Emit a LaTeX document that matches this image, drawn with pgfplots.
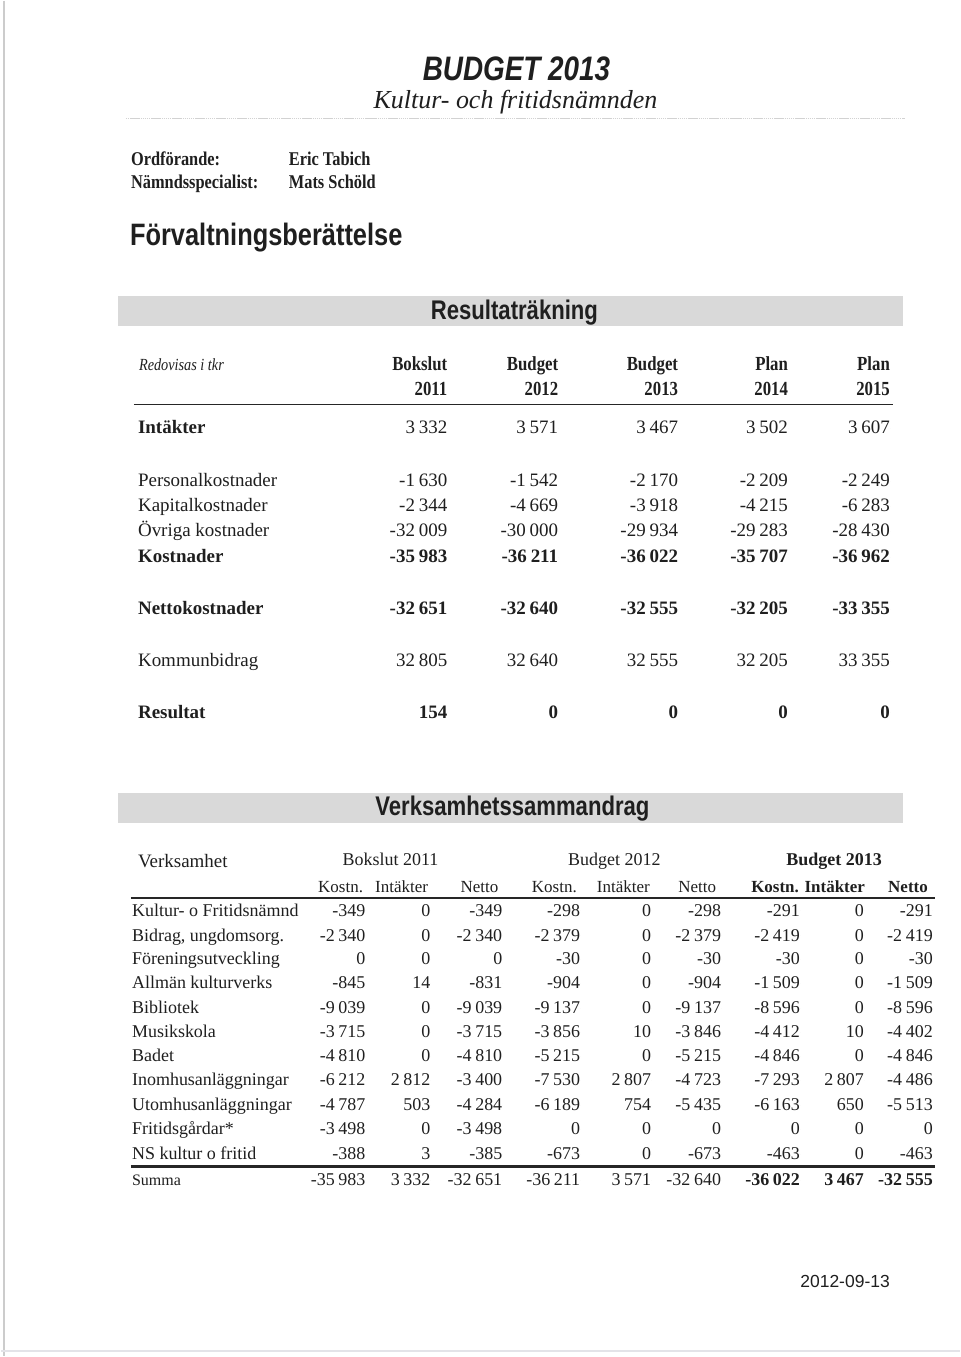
\documentclass[border=0pt]{standalone}
\usepackage{fontspec}
\setmainfont{Liberation Serif}
\newfontfamily\headsans[FakeStretch=0.82]{Liberation Sans}
\newfontfamily\datesans{Liberation Sans}
\newfontfamily\condserif[FakeStretch=0.84]{Liberation Serif}
\usepackage{pgfplots}
\usepackage{pgfplotstable}
\pgfplotsset{compat=1.18}

\newcommand\fs[1]{\fontsize{#1}{#1}\selectfont}

% Resultaträkning: y = row position on the page
\pgfplotstableread{
y   b11    b12    b13    p14    p15
428 3332   3571   3467   3502   3607
481 -1630  -1542  -2170  -2209  -2249
506 -2344  -4669  -3918  -4215  -6283
531 -32009 -30000 -29934 -29283 -28430
661 32805  32640  32555  32205  33355
}\resreg
\pgfplotstableread{
y   b11    b12    b13    p14    p15
557 -35983 -36211 -36022 -35707 -36962
609 -32651 -32640 -32555 -32205 -33355
713 154    0      0      0      0
}\resbold

% Verksamhetssammandrag
\pgfplotstableread{
y    k11   i11  n11   k12   i12  n12   k13   i13  n13
911  -349  0    -349  -298  0    -298  -291  0    -291
936  -2340 0    -2340 -2379 0    -2379 -2419 0    -2419
960  0     0    0     -30   0    -30   -30   0    -30
984  -845  14   -831  -904  0    -904  -1509 0    -1509
1009 -9039 0    -9039 -9137 0    -9137 -8596 0    -8596
1033 -3715 0    -3715 -3856 10   -3846 -4412 10   -4402
1057 -4810 0    -4810 -5215 0    -5215 -4846 0    -4846
1081 -6212 2812 -3400 -7530 2807 -4723 -7293 2807 -4486
1106 -4787 503  -4284 -6189 754  -5435 -6163 650  -5513
1130 -3498 0    -3498 0     0    0     0     0    0
1155 -388  3    -385  -673  0    -673  -463  0    -463
}\verk
\pgfplotstableread{
y    k11    i11  n11    k12    i12  n12    k13    i13  n13
1181 -35983 3332 -32651 -36211 3571 -32640 -36022 3467 -32555
}\summa

\pgfplotsset{
  cell/.style={only marks, mark=*, mark size=0pt,
    mark options={draw=none, fill=none},
    point meta=explicit, nodes near coords,
    nodes near coords style={anchor=mid east, inner sep=0pt,
      yshift=-3pt, text=black!88}},
}
\tikzset{
  txt/.style={anchor=mid west, inner sep=0pt, yshift=-3pt, text=black!88},
  ctr/.style={anchor=mid, inner sep=0pt, yshift=-3pt, text=black!88},
  rgt/.style={anchor=mid east, inner sep=0pt, yshift=-3pt, text=black!88},
}
% table, column, x position, extra options
\newcommand\col[4]{\addplot[cell, #4] table[x expr=#3, y=y, meta=#2] {#1};}

\begin{document}
\begin{tikzpicture}
\begin{axis}[
  width=960pt, height=1357pt, scale only axis,
  xmin=0, xmax=960, ymin=0, ymax=1357, y dir=reverse,
  hide axis, clip=false,
  /pgf/number format/.cd, fixed, precision=0,
  1000 sep={\hspace{0.2em}}, assume math mode=true,
]
\fill[white] (axis cs:0,0) rectangle (axis cs:960,1357);
\draw[gray!40, line width=1.5pt] (axis cs:3,0) -- (axis cs:3,1357);
\draw[blue!8!gray!20, line width=2pt] (axis cs:0,1352) -- (axis cs:960,1352);

% header
\node[font=\headsans\bfseries\itshape\fs{34}, text=black!88] at (axis cs:516,68) {BUDGET 2013};
\node[font=\itshape\fs{26}, text=black!88] at (axis cs:515,101) {Kultur- och fritidsnämnden};
\draw[gray!35, line width=1.5pt, dash pattern=on 1.5pt off 0.6pt] (axis cs:125,118) -- (axis cs:905,118);

\begin{scope}[every node/.style={txt, font=\condserif\bfseries\fs{19.5}}]
\node at (axis cs:130,160) {Ordförande:};
\node at (axis cs:288,160) {Eric Tabich};
\node at (axis cs:130,183) {Nämndsspecialist:};
\node at (axis cs:288,183) {Mats Schöld};
\end{scope}

\node[txt, font=\headsans\bfseries\fs{31}] at (axis cs:129,240) {Förvaltningsberättelse};

% Resultaträkning
\fill[black!15] (axis cs:117,296) rectangle (axis cs:903,326);
\node[ctr, font=\headsans\bfseries\fs{27}] at (axis cs:514,314) {Resultaträkning};

\node[txt, font=\condserif\itshape\fs{17}] at (axis cs:138,365) {Redovisas i tkr};
\begin{scope}[every node/.style={rgt, font=\condserif\bfseries\fs{20}}]
\node at (axis cs:447,365) {Bokslut}; \node at (axis cs:447,390) {2011};
\node at (axis cs:558,365) {Budget};  \node at (axis cs:558,390) {2012};
\node at (axis cs:678,365) {Budget};  \node at (axis cs:678,390) {2013};
\node at (axis cs:788,365) {Plan};    \node at (axis cs:788,390) {2014};
\node at (axis cs:890,365) {Plan};    \node at (axis cs:890,390) {2015};
\end{scope}
\draw[black!85, line width=1.6pt] (axis cs:133,404) -- (axis cs:893,404);

\begin{scope}[every node/.style={txt, font=\fs{19}}]
\node[font=\bfseries\fs{19}] at (axis cs:137,428) {Intäkter};
\node at (axis cs:137,481) {Personalkostnader};
\node at (axis cs:137,506) {Kapitalkostnader};
\node at (axis cs:137,531) {Övriga kostnader};
\node[font=\bfseries\fs{19}] at (axis cs:137,557) {Kostnader};
\node[font=\bfseries\fs{19}] at (axis cs:137,609) {Nettokostnader};
\node at (axis cs:137,661) {Kommunbidrag};
\node[font=\bfseries\fs{19}] at (axis cs:137,713) {Resultat};
\end{scope}

\col{\resreg}{b11}{447}{nodes near coords style={font=\fs{19}}}
\col{\resreg}{b12}{558}{nodes near coords style={font=\fs{19}}}
\col{\resreg}{b13}{678}{nodes near coords style={font=\fs{19}}}
\col{\resreg}{p14}{788}{nodes near coords style={font=\fs{19}}}
\col{\resreg}{p15}{890}{nodes near coords style={font=\fs{19}}}
\col{\resbold}{b11}{447}{nodes near coords style={font=\bfseries\fs{19}}}
\col{\resbold}{b12}{558}{nodes near coords style={font=\bfseries\fs{19}}}
\col{\resbold}{b13}{678}{nodes near coords style={font=\bfseries\fs{19}}}
\col{\resbold}{p14}{788}{nodes near coords style={font=\bfseries\fs{19}}}
\col{\resbold}{p15}{890}{nodes near coords style={font=\bfseries\fs{19}}}

% Verksamhetssammandrag
\fill[black!15] (axis cs:117,793) rectangle (axis cs:903,823);
\node[ctr, font=\headsans\bfseries\fs{27}] at (axis cs:512,810) {Verksamhetssammandrag};

\begin{scope}[every node/.style={ctr, font=\fs{18}}]
\node[txt, font=\fs{19}] at (axis cs:137,859) {Verksamhet};
\node at (axis cs:390,860) {Bokslut 2011};
\node at (axis cs:614,860) {Budget 2012};
\node[font=\bfseries\fs{18}] at (axis cs:834,860) {Budget 2013};
\node[font=\fs{17}] at (axis cs:340,887) {Kostn.};
\node[font=\fs{17}] at (axis cs:401,887) {Intäkter};
\node[font=\fs{17}] at (axis cs:479,887) {Netto};
\node[font=\fs{17}] at (axis cs:554,887) {Kostn.};
\node[font=\fs{17}] at (axis cs:623,887) {Intäkter};
\node[font=\fs{17}] at (axis cs:697,887) {Netto};
\node[font=\bfseries\fs{17}] at (axis cs:808,887) {Kostn. Intäkter};
\node[font=\bfseries\fs{17}] at (axis cs:908,887) {Netto};
\end{scope}
\draw[black!85, line width=1.6pt] (axis cs:130,898) -- (axis cs:935,898);

\begin{scope}[every node/.style={txt, font=\fs{18}}]
\node at (axis cs:131,911) {Kultur- o Fritidsnämnd};
\node at (axis cs:131,936) {Bidrag, ungdomsorg.};
\node at (axis cs:131,960) {Föreningsutveckling};
\node at (axis cs:131,984) {Allmän kulturverks};
\node at (axis cs:131,1009) {Bibliotek};
\node at (axis cs:131,1033) {Musikskola};
\node at (axis cs:131,1057) {Badet};
\node at (axis cs:131,1081) {Inomhusanläggningar};
\node at (axis cs:131,1106) {Utomhusanläggningar};
\node at (axis cs:131,1130) {Fritidsgårdar*};
\node at (axis cs:131,1155) {NS kultur o fritid};
\node[font=\fs{16}] at (axis cs:131,1181) {Summa};
\end{scope}

\col{\verk}{k11}{365}{nodes near coords style={font=\fs{18}}}
\col{\verk}{i11}{430}{nodes near coords style={font=\fs{18}}}
\col{\verk}{n11}{502}{nodes near coords style={font=\fs{18}}}
\col{\verk}{k12}{580}{nodes near coords style={font=\fs{18}}}
\col{\verk}{i12}{651}{nodes near coords style={font=\fs{18}}}
\col{\verk}{n12}{721}{nodes near coords style={font=\fs{18}}}
\col{\verk}{k13}{800}{nodes near coords style={font=\fs{18}}}
\col{\verk}{i13}{864}{nodes near coords style={font=\fs{18}}}
\col{\verk}{n13}{933}{nodes near coords style={font=\fs{18}}}

\draw[black!85, line width=2.6pt] (axis cs:130,1167) -- (axis cs:935,1167);
\col{\summa}{k11}{365}{nodes near coords style={font=\fs{18}}}
\col{\summa}{i11}{430}{nodes near coords style={font=\fs{18}}}
\col{\summa}{n11}{502}{nodes near coords style={font=\fs{18}}}
\col{\summa}{k12}{580}{nodes near coords style={font=\fs{18}}}
\col{\summa}{i12}{651}{nodes near coords style={font=\fs{18}}}
\col{\summa}{n12}{721}{nodes near coords style={font=\fs{18}}}
\col{\summa}{k13}{800}{nodes near coords style={font=\bfseries\fs{18}}}
\col{\summa}{i13}{864}{nodes near coords style={font=\bfseries\fs{18}}}
\col{\summa}{n13}{933}{nodes near coords style={font=\bfseries\fs{18}}}

\node[font=\datesans\fs{17.5}, text=black!88] at (axis cs:845,1282) {2012-09-13};
\end{axis}
\end{tikzpicture}
\end{document}
